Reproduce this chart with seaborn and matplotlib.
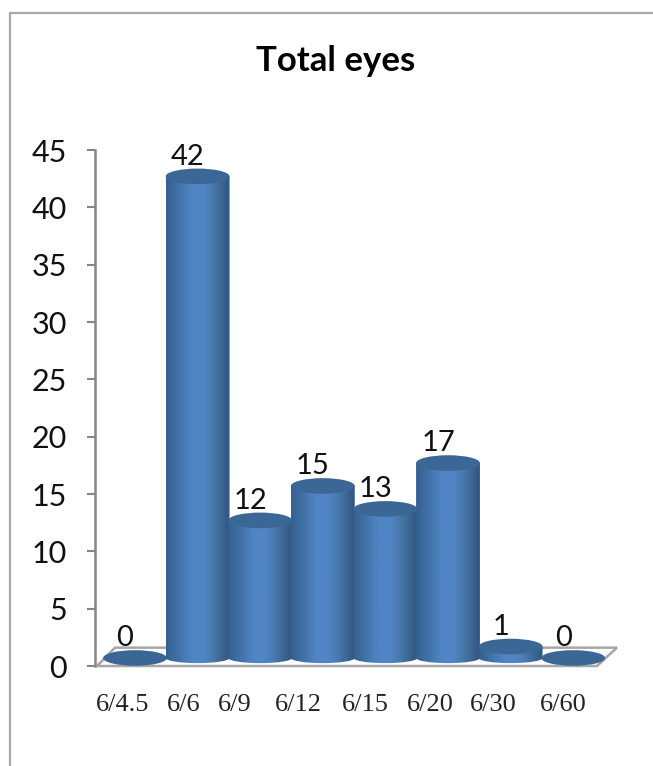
import numpy as np
import pandas as pd
import seaborn as sns
import matplotlib.pyplot as plt
from matplotlib.lines import Line2D
from matplotlib.path import Path
from matplotlib.patches import Ellipse, PathPatch, Polygon
from matplotlib.colors import LinearSegmentedColormap

categories = ['6/4.5', '6/6', '6/9', '6/12', '6/15', '6/20', '6/30', '6/60']
eyes = [0, 42, 12, 15, 13, 17, 1, 0]
y_ticks = list(range(0, 50, 5))

W, H = 653, 766
sns.set_style('white')
plt.rcParams['font.family'] = ['Lato', 'DejaVu Sans']

fig = plt.figure(figsize=(W / 100, H / 100), dpi=100)
ax = fig.add_axes([95 / W, 1 - 666 / H, (617 - 95) / W, (666 - 150) / H])

df = pd.DataFrame({'acuity': categories, 'eyes': eyes})
sns.barplot(data=df, x='acuity', y='eyes', width=1.02, color='#4f81bd', ax=ax)

# x range so that bar centres land 62.6 px apart
sx = 62.6
xl = ((95 - 135) / sx, (617 - 135) / sx)
ax.set_ylim(0, 45)
ax.set_yticks(y_ticks)
ax.tick_params(axis='y', length=6, width=1.5, color='#868686', labelsize=22, pad=14, labelcolor='#111111', left=True)
ax.set_xlabel('')
ax.set_ylabel('')
# the labels sit off the bar centres in the original
label_px = [123, 184, 235, 298, 365, 430, 493, 563]
ax.set_xticks([(p - 135) / sx for p in label_px])
ax.set_xticklabels(categories, family='Liberation Serif', fontsize=19, color='#222222')
ax.tick_params(axis='x', length=0, pad=20)
for s in ['top', 'right', 'bottom']:
    ax.spines[s].set_visible(False)
ax.spines['left'].set_color('#868686')
ax.spines['left'].set_linewidth(1.8)

# floor of the 3d chart
floor = Polygon([(xl[0] + 2 / sx, 0), (xl[0] + 20 / sx, 1.6), (xl[1], 1.6), (xl[1] - 20 / sx, 0)],
                closed=True, fc='white', ec='#a6a6a6', lw=1.8, zorder=1, clip_on=False)
ax.add_patch(floor)

cmap = LinearSegmentedColormap.from_list('cyl', ['#34608f', '#4272a8', '#5085c4', '#5085c4', '#44719f', '#305582'])
grad = np.linspace(0, 1, 128).reshape(1, -1)
depth = 0.7
top_h = 0.68
base_h = 0.45

bars = list(ax.patches)
for i, (bar, v) in enumerate(zip(bars, eyes)):
    x0 = bar.get_x()
    w = bar.get_width()
    x1 = x0 + w
    xc = x0 + w / 2
    top = v + depth
    z = 3 + i
    bar.set_visible(False)
    if v > 0:
        # body with rounded base
        k = 0.5523
        verts = [(x0, top), (x0, depth), (x0, depth - k * base_h), (xc - k * w / 2, depth - base_h), (xc, depth - base_h),
                 (xc + k * w / 2, depth - base_h), (x1, depth - k * base_h), (x1, depth), (x1, top), (x0, top)]
        codes = [Path.MOVETO, Path.LINETO, Path.CURVE4, Path.CURVE4, Path.CURVE4, Path.CURVE4, Path.CURVE4, Path.CURVE4,
                 Path.LINETO, Path.CLOSEPOLY]
        clip = PathPatch(Path(verts, codes), transform=ax.transData, fc='none', ec='none')
        ax.add_patch(clip)
        im = ax.imshow(grad, extent=(x0, x1, 0, top), aspect='auto', cmap=cmap, zorder=z, interpolation='bilinear')
        im.set_clip_path(clip)
    ax.add_patch(Ellipse((xc, top), w, 2 * top_h, fc='#3b6797', ec='none', zorder=z + 0.5))
    ax.annotate(str(v), (xc, v), xytext=(-7.2, 20), textcoords='offset points', ha='center', va='center',
                fontsize=21, color='#111111', zorder=20)

ax.set_xlim(xl)
ax.set_ylim(0, 45)

fig.text(336 / W, 1 - 61 / H, 'Total eyes', ha='center', va='center', fontsize=25, fontweight='bold', color='black')
border = dict(color='#a8a8a8', lw=1.6, transform=fig.transFigure)
fig.add_artist(Line2D([9.5 / W, 9.5 / W], [0, 1 - 13 / H], **border))
fig.add_artist(Line2D([9.5 / W, 1], [1 - 13 / H, 1 - 13 / H], **border))

fig.savefig('out.png', dpi=100)
